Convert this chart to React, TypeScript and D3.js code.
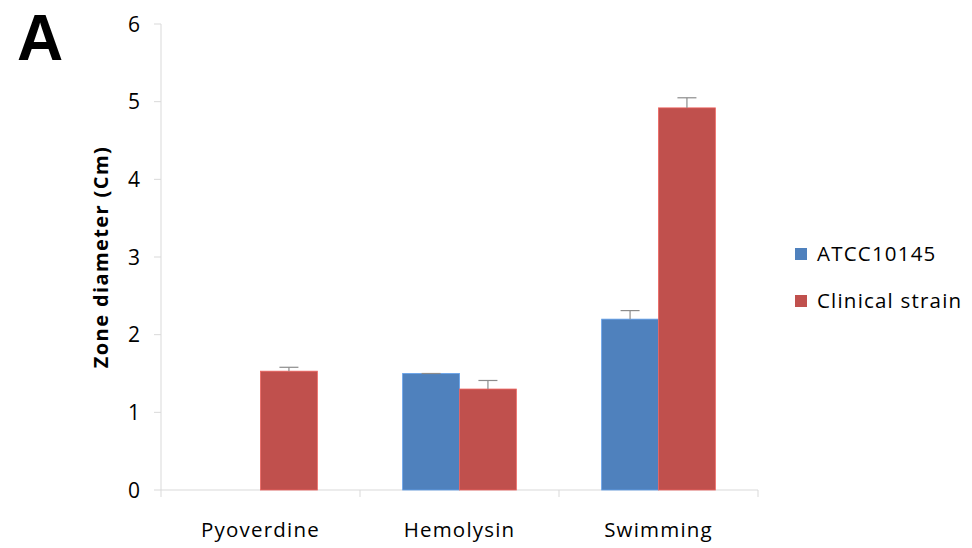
import React from "react";
import * as d3 from "d3";

const categories = ["Pyoverdine", "Hemolysin", "Swimming"];
const seriesNames = ["ATCC10145", "Clinical strain"];
const atccValues = [0, 1.5, 2.2];
const atccErrors = [0, 0, 0.11];
const clinicalValues = [1.53, 1.3, 4.92];
const clinicalErrors = [0.05, 0.11, 0.13];
const yTicks = [0, 1, 2, 3, 4, 5, 6];
const colors = ["#4F81BD", "#C0504D"];

const W = 972;
const H = 548;
const plot = { left: 161, right: 758, top: 24, bottom: 490 };
const font = "'Open Sans', Calibri, sans-serif";

export default function App() {
  const x = d3.scaleBand<string>().domain(categories).range([plot.left, plot.right]);
  // Excel style: gap width 150% of a bar
  const barW = x.bandwidth() / 3.5;
  const y = d3.scaleLinear().domain([0, 6]).range([plot.bottom, plot.top]);
  const series = [
    { name: seriesNames[0], values: atccValues, errors: atccErrors, color: colors[0] },
    { name: seriesNames[1], values: clinicalValues, errors: clinicalErrors, color: colors[1] },
  ];
  const axisColor = "#d9d9d9";
  const errColor = "#8c8c8c";
  const bounds = [plot.left, ...categories.map((c) => (x(c) as number) + x.bandwidth())];

  return (
    <svg width={W} height={H} style={{ position: "absolute", left: 0, top: 0 }}>
      <rect width={W} height={H} fill="#fff" />
      <text x={17} y={60} fontFamily="Arial, 'Liberation Sans', sans-serif" fontWeight="bold" fontSize={64}>
        A
      </text>
      {/* y axis */}
      <line x1={plot.left} x2={plot.left} y1={plot.top} y2={plot.bottom} stroke={axisColor} />
      {yTicks.map((t) => (
        <g key={t}>
          <line x1={plot.left - 7} x2={plot.left} y1={y(t)} y2={y(t)} stroke={axisColor} />
          <text x={140} y={y(t)} dy="0.36em" textAnchor="end" fontFamily={font} fontSize={21} fill="#000">
            {t}
          </text>
        </g>
      ))}
      <text
        transform={`translate(108,${257}) rotate(-90)`}
        textAnchor="middle"
        fontFamily={font}
        fontWeight="bold"
        fontSize={20}
        letterSpacing={1.4}
      >
        Zone diameter (Cm)
      </text>
      {/* x axis */}
      <line x1={plot.left} x2={plot.right} y1={plot.bottom} y2={plot.bottom} stroke={axisColor} />
      {bounds.map((b, i) => (
        <line key={i} x1={b} x2={b} y1={plot.bottom} y2={plot.bottom + 7} stroke={axisColor} />
      ))}
      {categories.map((c) => (
        <text
          key={c}
          x={(x(c) as number) + x.bandwidth() / 2}
          y={537}
          textAnchor="middle"
          fontFamily={font}
          fontSize={20.5}
          letterSpacing={1.2}
        >
          {c}
        </text>
      ))}
      {/* bars */}
      {series.map((s, si) =>
        categories.map((c, ci) => {
          const v = s.values[ci];
          if (v <= 0) return null;
          const bx = (x(c) as number) + barW * 0.75 + si * barW;
          const cx = bx + barW / 2;
          const e = s.errors[ci];
          return (
            <g key={`${si}-${ci}`}>
              <rect x={bx} y={y(v)} width={barW} height={y(0) - y(v)} fill={s.color} stroke={d3.color(s.color)!.brighter(0.6).toString()} strokeWidth={0.8} />
              <line x1={cx} x2={cx} y1={y(v)} y2={y(v + e)} stroke={errColor} strokeWidth={1.2} />
              <line x1={cx - 9.5} x2={cx + 9.5} y1={y(v + e)} y2={y(v + e)} stroke={errColor} strokeWidth={1.2} />
            </g>
          );
        })
      )}
      {/* legend */}
      {series.map((s, i) => (
        <g key={s.name} transform={`translate(795,${248 + i * 47})`}>
          <rect width={12} height={12} fill={s.color} />
          <text x={22} y={6} dy="0.36em" fontFamily={font} fontSize={20.5} letterSpacing={1.2}>
            {s.name}
          </text>
        </g>
      ))}
    </svg>
  );
}
